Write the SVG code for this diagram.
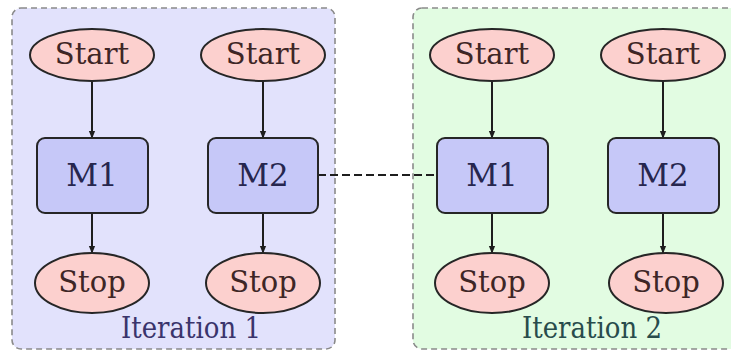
<svg xmlns="http://www.w3.org/2000/svg" width="731" height="354" viewBox="0 0 731 354">
  <style>
    .grp { stroke: #8a8a8a; stroke-width: 1.6; stroke-dasharray: 6 4; }
    .term { fill: #fcd0ce; stroke: #262626; stroke-width: 2; }
    .proc { fill: #c6c8f8; stroke: #262626; stroke-width: 2; }
    .lbl { font-family: "DejaVu Serif", "Liberation Serif", serif; font-size: 29px; text-anchor: middle; dominant-baseline: central; }
    .t-term { fill: #3e2626; }
    .t-proc { fill: #26264e; font-size: 31px; }
    .edge { stroke: #1e1e1e; stroke-width: 2; fill: none; marker-end: url(#arr); }
    .link { stroke: #1e1e1e; stroke-width: 2.2; stroke-dasharray: 8 4; fill: none; }
  </style>
  <defs>
    <marker id="arr" viewBox="0 0 10 10" refX="9" refY="5" markerWidth="4" markerHeight="4" orient="auto" markerUnits="strokeWidth">
      <path d="M0,1 L10,5 L0,9 z" fill="#1e1e1e"/>
    </marker>
  </defs>

  <!-- iteration containers -->
  <g id="iteration1">
    <rect class="grp" x="12" y="8" width="323" height="341" rx="9" fill="#e2e2fc"/>
    <text class="lbl" x="191" y="328" fill="#3a346c" textLength="140" lengthAdjust="spacingAndGlyphs">Iteration 1</text>
  </g>
  <g id="iteration2">
    <rect class="grp" x="413" y="8" width="340" height="341" rx="9" fill="#e2fce2"/>
    <text class="lbl" x="592" y="328" fill="#284c4c" textLength="140" lengthAdjust="spacingAndGlyphs">Iteration 2</text>
  </g>

  <!-- connectors -->
  <g id="connectors">
    <line class="edge" x1="92" y1="81" x2="92" y2="138"/>
    <line class="edge" x1="92" y1="213" x2="92" y2="253"/>
    <line class="edge" x1="263" y1="81" x2="263" y2="138"/>
    <line class="edge" x1="263" y1="213" x2="263" y2="253"/>
    <line class="edge" x1="492" y1="81" x2="492" y2="138"/>
    <line class="edge" x1="492" y1="213" x2="492" y2="253"/>
    <line class="edge" x1="663" y1="81" x2="663" y2="138"/>
    <line class="edge" x1="663" y1="213" x2="663" y2="253"/>
    <line class="link" x1="318" y1="175" x2="437" y2="175"/>
  </g>

  <!-- iteration 1 nodes -->
  <g id="i1-start1"><ellipse class="term" cx="92" cy="55" rx="62" ry="26"/><text class="lbl t-term" x="92" y="54">Start</text></g>
  <g id="i1-m1"><rect class="proc" x="37" y="138" width="111" height="75" rx="8"/><text class="lbl t-proc" x="92" y="175">M1</text></g>
  <g id="i1-stop1"><ellipse class="term" cx="92" cy="283" rx="57" ry="30"/><text class="lbl t-term" x="92" y="282">Stop</text></g>

  <g id="i1-start2"><ellipse class="term" cx="263" cy="55" rx="62" ry="26"/><text class="lbl t-term" x="263" y="54">Start</text></g>
  <g id="i1-m2"><rect class="proc" x="208" y="138" width="110" height="75" rx="8"/><text class="lbl t-proc" x="263" y="175">M2</text></g>
  <g id="i1-stop2"><ellipse class="term" cx="263" cy="283" rx="57" ry="30"/><text class="lbl t-term" x="263" y="282">Stop</text></g>

  <!-- iteration 2 nodes -->
  <g id="i2-start1"><ellipse class="term" cx="492" cy="55" rx="62" ry="26"/><text class="lbl t-term" x="492" y="54">Start</text></g>
  <g id="i2-m1"><rect class="proc" x="437" y="138" width="111" height="75" rx="8"/><text class="lbl t-proc" x="492" y="175">M1</text></g>
  <g id="i2-stop1"><ellipse class="term" cx="492" cy="283" rx="57" ry="30"/><text class="lbl t-term" x="492" y="282">Stop</text></g>

  <g id="i2-start2"><ellipse class="term" cx="663" cy="55" rx="62" ry="26"/><text class="lbl t-term" x="663" y="54">Start</text></g>
  <g id="i2-m2"><rect class="proc" x="608" y="138" width="111" height="75" rx="8"/><text class="lbl t-proc" x="663" y="175">M2</text></g>
  <g id="i2-stop2"><ellipse class="term" cx="666" cy="283" rx="57" ry="30"/><text class="lbl t-term" x="666" y="282">Stop</text></g>
</svg>
